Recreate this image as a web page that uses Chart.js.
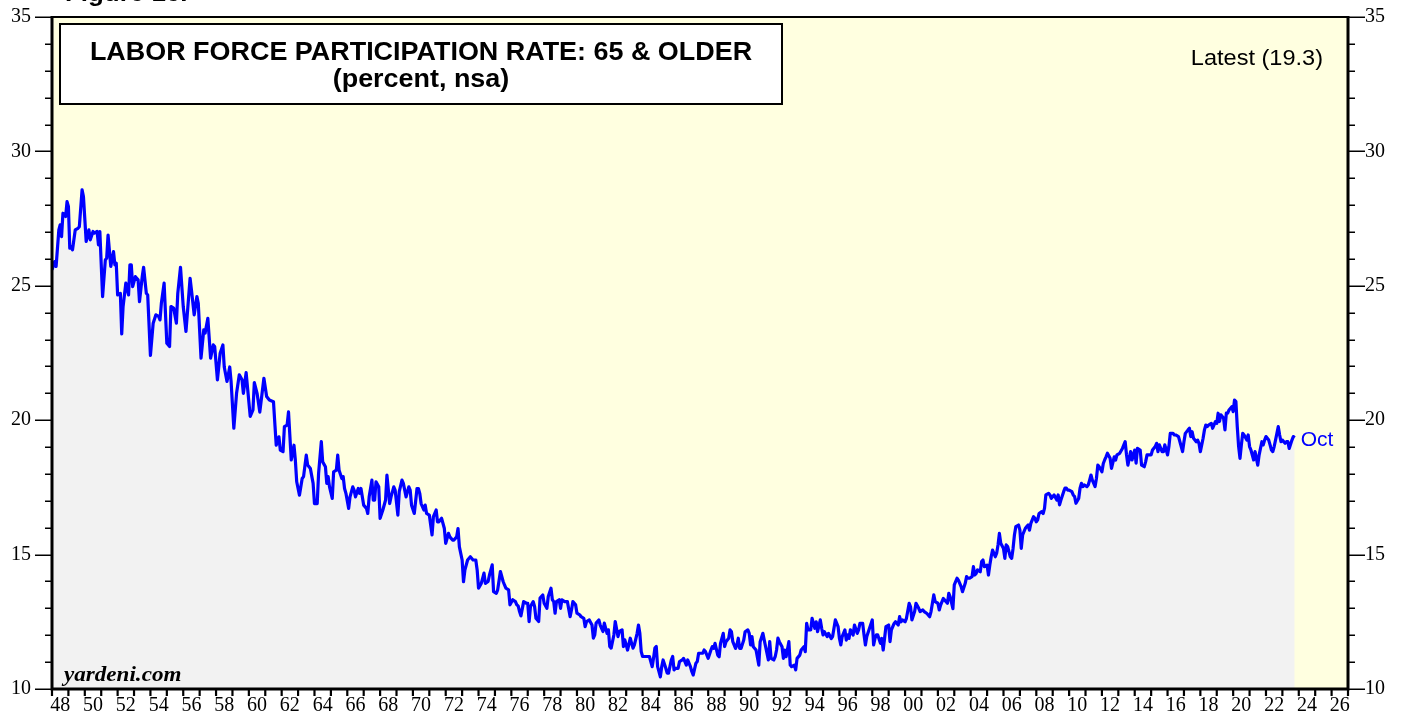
<!DOCTYPE html>
<html><head><meta charset="utf-8">
<script src="https://cdn.jsdelivr.net/npm/chart.js@4.4.0/dist/chart.umd.min.js"></script>
<style>html,body{margin:0;padding:0;background:#fff;}canvas{display:block;}</style>
</head><body>
<canvas id="c" width="1407" height="721"></canvas>
<script>
const chartTitle = 'LABOR FORCE PARTICIPATION RATE: 65 & OLDER';
const chartSubtitle = '(percent, nsa)';
const latestLabel = 'Latest (19.3)';
const lastMonthLabel = 'Oct';
const sourceLabel = 'yardeni.com';
const figureLabel = 'Figure 16.';
const startYear = 1948;

// months since Jan 1948
const months = [
0,2,3,5,6,7,8,10,11,12,
13,14,15,17,19,20,22,23,25,27,
28,30,31,33,34,35,37,39,40,41,
43,45,46,47,48,50,51,52,54,56,
57,58,59,61,63,64,66,67,69,70,
72,74,76,78,79,80,82,84,86,87,
89,91,92,94,96,98,101,102,104,106,
107,109,111,112,114,116,118,119,121,123,
125,126,128,130,131,133,135,137,139,140,
142,145,147,148,150,152,155,157,159,162,
164,166,167,169,170,172,173,175,177,178,
179,181,183,184,186,187,189,191,192,194,
195,197,198,200,201,202,203,205,206,208,
209,210,212,213,214,215,217,218,220,221,
222,224,225,226,228,230,231,232,234,235,
236,237,239,240,242,244,245,247,248,250,
251,253,254,256,257,259,261,262,263,265,
267,268,269,270,272,273,274,276,278,279,
281,282,283,285,287,288,290,291,293,294,
296,297,298,300,301,302,304,306,308,310,
311,312,314,316,317,319,320,322,323,325,
326,328,330,331,332,334,335,337,339,340,
341,342,343,345,347,348,349,350,352,353,
354,356,357,359,360,362,363,365,366,367,
368,369,371,372,373,375,377,379,380,381,
383,384,386,387,389,390,391,393,395,396,
397,398,400,401,403,404,406,407,408,409,
411,412,414,415,417,418,419,420,421,423,
424,425,426,428,429,430,431,432,434,436,
437,439,440,441,442,443,445,446,447,449,
450,451,453,454,455,456,458,459,461,462,
464,465,467,468,469,471,472,473,474,476,
477,478,480,482,483,484,485,487,488,489,
491,492,493,495,496,497,498,500,501,502,
503,504,506,507,509,510,511,512,513,515,
517,518,520,521,522,524,525,526,528,529,
530,531,532,534,535,536,537,539,540,541,
543,544,545,547,548,550,551,552,553,555,
556,558,559,560,562,563,564,565,567,568,
570,571,572,573,575,576,577,578,580,581,
582,583,584,586,587,589,590,591,593,594,
595,596,598,600,601,602,603,604,606,607,
608,609,610,612,613,614,616,617,619,620,
621,622,624,625,627,628,629,631,632,634,
635,637,638,640,642,643,644,645,646,648,
649,650,652,654,655,656,657,659,660,662,
663,664,665,666,668,669,670,671,673,674,
675,676,677,679,680,681,682,684,685,686,
687,688,690,691,692,693,694,696,697,698,
699,701,702,703,704,705,707,708,709,710,
712,713,714,715,716,718,719,720,721,722,
724,725,726,727,729,730,731,732,733,735,
736,737,738,740,741,742,743,744,746,747,
748,749,751,752,753,754,755,757,758,759,
760,761,763,764,765,766,768,769,770,771,
772,774,775,777,778,779,781,783,785,786,
787,789,790,792,793,794,796,797,799,800,
801,802,804,805,807,808,809,810,812,813,
814,816,817,818,820,821,822,824,826,827,
828,829,831,832,833,834,835,837,838,839,
840,842,843,844,845,846,848,849,851,852,
853,854,855,857,858,859,860,861,863,864,
865,866,867,868,869,870,871,872,874,875,
876,877,879,880,881,882,883,885,886,887,
888,890,891,892,893,894,896,897,898,899,
900,902,903,904,905,907,908,909
];

// participation rate, 65 & older (percent, nsa)
const rate = [
25.6,25.9,25.72,27.08,27.27,26.83,27.7,27.58,28.13,27.95,
26.4,26.46,26.34,27.08,27.14,27.2,28.57,28.32,26.65,27.08,
26.71,27.02,26.96,27.02,26.52,27.02,24.6,25.96,26.03,26.89,
25.72,26.27,25.78,25.84,24.66,24.72,23.21,24.23,25.1,24.66,
25.78,25.78,24.97,25.34,25.22,24.41,25.34,25.69,24.72,24.66,
22.41,23.61,23.92,23.86,23.73,24.35,25.1,22.86,22.74,24.23,
24.17,23.61,24.72,25.69,24.23,23.3,25.28,24.85,23.92,24.6,
24.35,22.31,23.36,23.24,23.79,22.31,22.8,22.74,21.5,22.49,
22.8,21.98,21.44,21.98,21.44,19.7,21.0,21.69,21.5,21.0,
21.77,20.14,20.38,21.4,21.0,20.3,21.56,20.88,20.75,20.69,
19.07,19.38,18.89,18.83,19.76,19.82,20.31,18.52,19.07,18.52,
17.71,17.21,17.83,17.9,18.7,18.33,18.2,17.65,16.9,16.9,
18.02,19.2,18.45,18.27,17.65,17.9,17.52,17.09,18.08,18.14,
18.7,18.14,17.83,17.9,17.46,17.28,16.72,17.15,17.52,17.4,
17.15,17.46,17.28,17.46,16.84,16.72,16.53,17.15,17.77,17.03,
17.03,17.71,17.52,16.35,16.66,17.03,17.96,16.9,17.15,17.52,
17.4,16.47,17.34,17.77,17.65,17.15,17.52,17.4,16.84,16.53,
17.46,17.46,17.28,16.9,16.66,16.84,16.53,16.47,15.73,16.41,
16.66,16.22,16.22,16.35,15.97,15.42,15.79,15.66,15.54,15.54,
15.66,15.97,15.29,14.8,13.99,14.42,14.8,14.92,14.8,14.8,
14.43,13.75,13.93,14.31,13.93,14.0,14.24,14.62,13.62,13.56,
13.69,14.37,14.0,13.87,13.75,13.69,13.13,13.32,13.25,13.13,
13.09,12.88,12.72,13.25,13.19,13.19,12.51,13.07,13.25,13.07,
12.63,12.51,13.38,13.5,13.19,13.0,13.44,13.75,13.32,13.25,
12.82,13.25,13.32,13.0,13.32,13.25,13.25,12.69,12.94,13.25,
13.13,12.82,12.76,12.69,12.63,12.32,12.51,12.57,12.38,11.89,
12.01,12.45,12.57,12.38,12.14,12.45,12.07,12.2,11.58,11.52,
12.01,12.51,11.95,12.14,12.2,11.58,11.83,11.64,11.45,11.89,
11.7,11.52,11.64,12.07,12.38,12.07,11.39,11.21,11.21,11.21,
11.21,10.83,11.14,11.52,11.58,10.83,10.45,10.83,11.08,10.77,
10.59,10.59,11.08,11.21,10.71,10.77,10.77,11.02,11.08,11.14,
10.89,11.08,10.83,10.65,10.52,10.96,11.02,11.33,11.33,11.33,
11.45,11.39,11.14,11.45,11.58,11.51,11.7,11.26,11.2,11.7,
12.07,11.58,11.76,11.89,12.2,12.13,11.76,11.51,11.64,11.89,
11.51,11.51,11.82,12.13,12.2,12.07,11.64,11.95,11.57,11.45,
10.89,11.76,12.07,11.82,11.57,11.08,11.76,11.14,11.08,11.2,
11.45,11.89,11.76,11.57,11.14,11.45,11.2,11.76,10.89,10.83,
10.89,10.71,11.14,11.26,11.45,11.57,11.39,12.44,12.2,12.2,
12.63,12.26,12.5,12.13,12.57,12.26,12.01,12.13,11.95,12.07,
11.88,11.95,12.26,12.57,12.32,11.88,11.64,11.95,12.2,11.82,
12.01,11.88,12.2,12.01,12.38,12.07,12.2,12.44,12.44,12.01,
11.64,11.95,12.26,12.57,11.64,11.88,12.01,12.01,11.7,11.88,
11.45,11.88,12.32,12.38,11.76,12.2,12.44,12.5,12.38,12.69,
12.5,12.57,12.5,12.63,13.19,13.06,12.57,12.88,13.19,13.0,
12.88,12.94,12.88,12.81,12.69,12.88,13.19,13.5,13.25,13.19,
12.94,13.12,13.37,13.25,13.19,13.56,13.43,12.99,13.87,14.12,
14.05,13.93,13.81,13.62,13.93,14.18,14.12,14.12,14.18,14.55,
14.24,14.3,14.43,14.36,14.74,14.8,14.55,14.61,14.24,14.61,
14.92,15.17,14.92,15.05,15.36,15.79,15.42,15.23,14.86,15.36,
15.3,14.92,14.86,15.23,15.73,16.04,16.1,15.91,15.23,15.73,
15.98,16.04,16.1,15.91,16.16,16.41,16.35,16.22,16.29,16.53,
16.6,16.53,16.72,17.22,17.28,17.22,17.09,17.16,17.22,17.03,
17.22,16.85,17.03,17.34,17.47,17.47,17.4,17.4,17.34,17.22,
17.16,16.91,17.09,17.47,17.65,17.53,17.59,17.53,17.59,17.77,
17.96,17.77,17.53,17.84,18.33,18.27,18.08,18.39,18.52,18.64,
18.77,18.58,18.21,18.64,18.52,18.71,18.77,18.95,19.2,18.71,
18.33,18.83,18.52,18.89,18.4,18.95,18.89,18.33,18.27,18.46,
18.71,18.71,18.71,18.89,19.02,19.14,18.83,19.08,18.83,18.83,
19.08,18.71,19.02,19.51,19.51,19.45,19.45,19.39,19.02,18.83,
19.2,19.51,19.64,19.7,19.39,19.57,19.33,19.2,19.26,19.14,
18.83,19.33,19.64,19.82,19.76,19.82,19.88,19.7,19.95,19.88,
20.26,19.95,20.2,20.07,19.64,20.26,20.26,20.38,20.5,20.32,
20.75,20.69,19.76,19.02,18.58,19.08,19.51,19.45,19.26,19.45,
19.02,18.89,18.52,18.83,18.58,18.33,18.71,19.2,19.08,19.26,
19.39,19.26,19.08,18.89,18.83,19.02,19.51,19.76,19.45,19.2,
19.26,19.14,19.2,19.2,18.95,19.26,19.39,19.35
];

const xTickYears = [1948,1950,1952,1954,1956,1958,1960,1962,1964,1966,1968,1970,1972,1974,1976,1978,1980,1982,1984,1986,1988,1990,1992,1994,1996,1998,2000,2002,2004,2006,2008,2010,2012,2014,2016,2018,2020,2022,2024,2026];
const yTickValues = [10,15,20,25,30,35];
const xMin = 1948, xMax = 2027, yMin = 10, yMax = 35;

if (months.length !== rate.length) console.error('length mismatch', months.length, rate.length);
const points = months.map((m, i) => ({ x: startYear + m / 12, y: rate[i] }));

function stretchText(ctx, text, x, y, font, align, color, sx) {
  ctx.save();
  ctx.font = font; ctx.fillStyle = color; ctx.textBaseline = 'alphabetic'; ctx.textAlign = 'left';
  const w = ctx.measureText(text).width * sx;
  const left = align === 'center' ? x - w / 2 : (align === 'right' ? x - w : x);
  ctx.translate(left, y); ctx.scale(sx, 1);
  ctx.fillText(text, 0, 0);
  ctx.restore();
}

function fixBox(w, h) {
  return s => {
    if (w !== null) s.width = w;
    if (h !== null) s.height = h;
    s.paddingTop = 0; s.paddingBottom = 0; s.paddingLeft = 0; s.paddingRight = 0;
  };
}

const deco = {
  id: 'deco',
  beforeDraw(chart) {
    const { ctx, chartArea: a } = chart;
    ctx.save();
    ctx.fillStyle = '#ffffff'; ctx.fillRect(0, 0, chart.width, chart.height);
    ctx.fillStyle = '#FFFFE0'; ctx.fillRect(a.left, a.top, a.right - a.left, a.bottom - a.top);
    ctx.restore();
  },
  afterDraw(chart) {
    const { ctx, chartArea: a } = chart;
    const xs = chart.scales.x, ys = chart.scales.y;
    ctx.save();
    ctx.strokeStyle = '#000'; ctx.lineCap = 'butt';
    ctx.lineWidth = 1.5;
    for (let v = yMin; v <= yMax; v++) {
      const py = Math.round(ys.getPixelForValue(v)) + 0.25;
      const len = v % 5 === 0 ? 17 : 7;
      ctx.beginPath(); ctx.moveTo(a.left - len, py); ctx.lineTo(a.left, py); ctx.stroke();
      ctx.beginPath(); ctx.moveTo(a.right, py); ctx.lineTo(a.right + len, py); ctx.stroke();
    }
    ctx.lineWidth = 2.2;
    for (let yr = xMin; yr <= xMax; yr++) {
      const px = xs.getPixelForValue(yr);
      ctx.beginPath(); ctx.moveTo(px, a.bottom); ctx.lineTo(px, a.bottom + 7); ctx.stroke();
    }
    ctx.lineWidth = 2;
    ctx.beginPath(); ctx.moveTo(a.left, a.top); ctx.lineTo(a.right, a.top); ctx.stroke();
    ctx.lineWidth = 3;
    ctx.beginPath(); ctx.moveTo(a.left, a.top - 1); ctx.lineTo(a.left, a.bottom); ctx.lineTo(a.right, a.bottom); ctx.lineTo(a.right, a.top - 1); ctx.stroke();
    ctx.fillStyle = '#fff'; ctx.fillRect(60, 24, 722, 80);
    ctx.lineWidth = 2; ctx.strokeRect(60, 24, 722, 80);
    ctx.restore();

    stretchText(ctx, chartTitle, 421, 60, 'bold 25px "Liberation Sans", Arial, sans-serif', 'center', '#000', 1.077);
    stretchText(ctx, chartSubtitle, 421, 87, 'bold 25px "Liberation Sans", Arial, sans-serif', 'center', '#000', 1.077);
    stretchText(ctx, latestLabel, 1323, 65, '22px "Liberation Sans", Arial, sans-serif', 'right', '#000', 1.07);
    const last = points[points.length - 1];
    stretchText(ctx, lastMonthLabel, xs.getPixelForValue(last.x) + 6, ys.getPixelForValue(last.y) + 8, '20px "Liberation Sans", Arial, sans-serif', 'left', '#0000FF', 1.05);
    stretchText(ctx, sourceLabel, 64, 681, 'italic bold 21px "Liberation Serif", "Times New Roman", serif', 'left', '#000', 1.1);
    stretchText(ctx, figureLabel, 65, 1, 'bold 24px "Liberation Sans", Arial, sans-serif', 'left', '#000', 1.08);
  }
};

const tickFont = { family: '"Liberation Serif", "Times New Roman", serif', size: 20 };

new Chart(document.getElementById('c'), {
  type: 'line',
  data: {
    datasets: [{
      data: points,
      borderColor: '#0000FF',
      borderWidth: 3.2,
      borderJoinStyle: 'round',
      backgroundColor: '#F2F2F2',
      fill: 'start',
      pointRadius: 0,
      tension: 0
    }]
  },
  options: {
    responsive: false,
    animation: false,
    devicePixelRatio: 1,
    layout: { padding: { top: 17, left: 0, right: 0, bottom: 0 } },
    plugins: { legend: { display: false }, tooltip: { enabled: false } },
    scales: {
      x: {
        type: 'linear', min: xMin, max: xMax,
        afterFit: fixBox(null, 32),
        afterBuildTicks: s => { s.ticks = xTickYears.map(v => ({ value: v })); },
        grid: { display: false, drawTicks: false },
        border: { display: false },
        ticks: {
          autoSkip: false, maxRotation: 0, minRotation: 0, labelOffset: 8.2, padding: 5,
          color: '#000', font: tickFont,
          callback: v => String(v % 100).padStart(2, '0')
        }
      },
      y: {
        position: 'left', min: yMin, max: yMax,
        afterFit: fixBox(52, null),
        afterBuildTicks: s => { s.ticks = yTickValues.map(v => ({ value: v })); },
        grid: { display: false, drawTicks: false },
        border: { display: false },
        ticks: { padding: 21, color: '#000', font: tickFont }
      },
      y2: {
        position: 'right', min: yMin, max: yMax,
        afterFit: fixBox(59, null),
        afterBuildTicks: s => { s.ticks = yTickValues.map(v => ({ value: v })); },
        grid: { display: false, drawTicks: false },
        border: { display: false },
        ticks: { padding: 17, color: '#000', font: tickFont }
      }
    }
  },
  plugins: [deco]
});
</script>
</body></html>
